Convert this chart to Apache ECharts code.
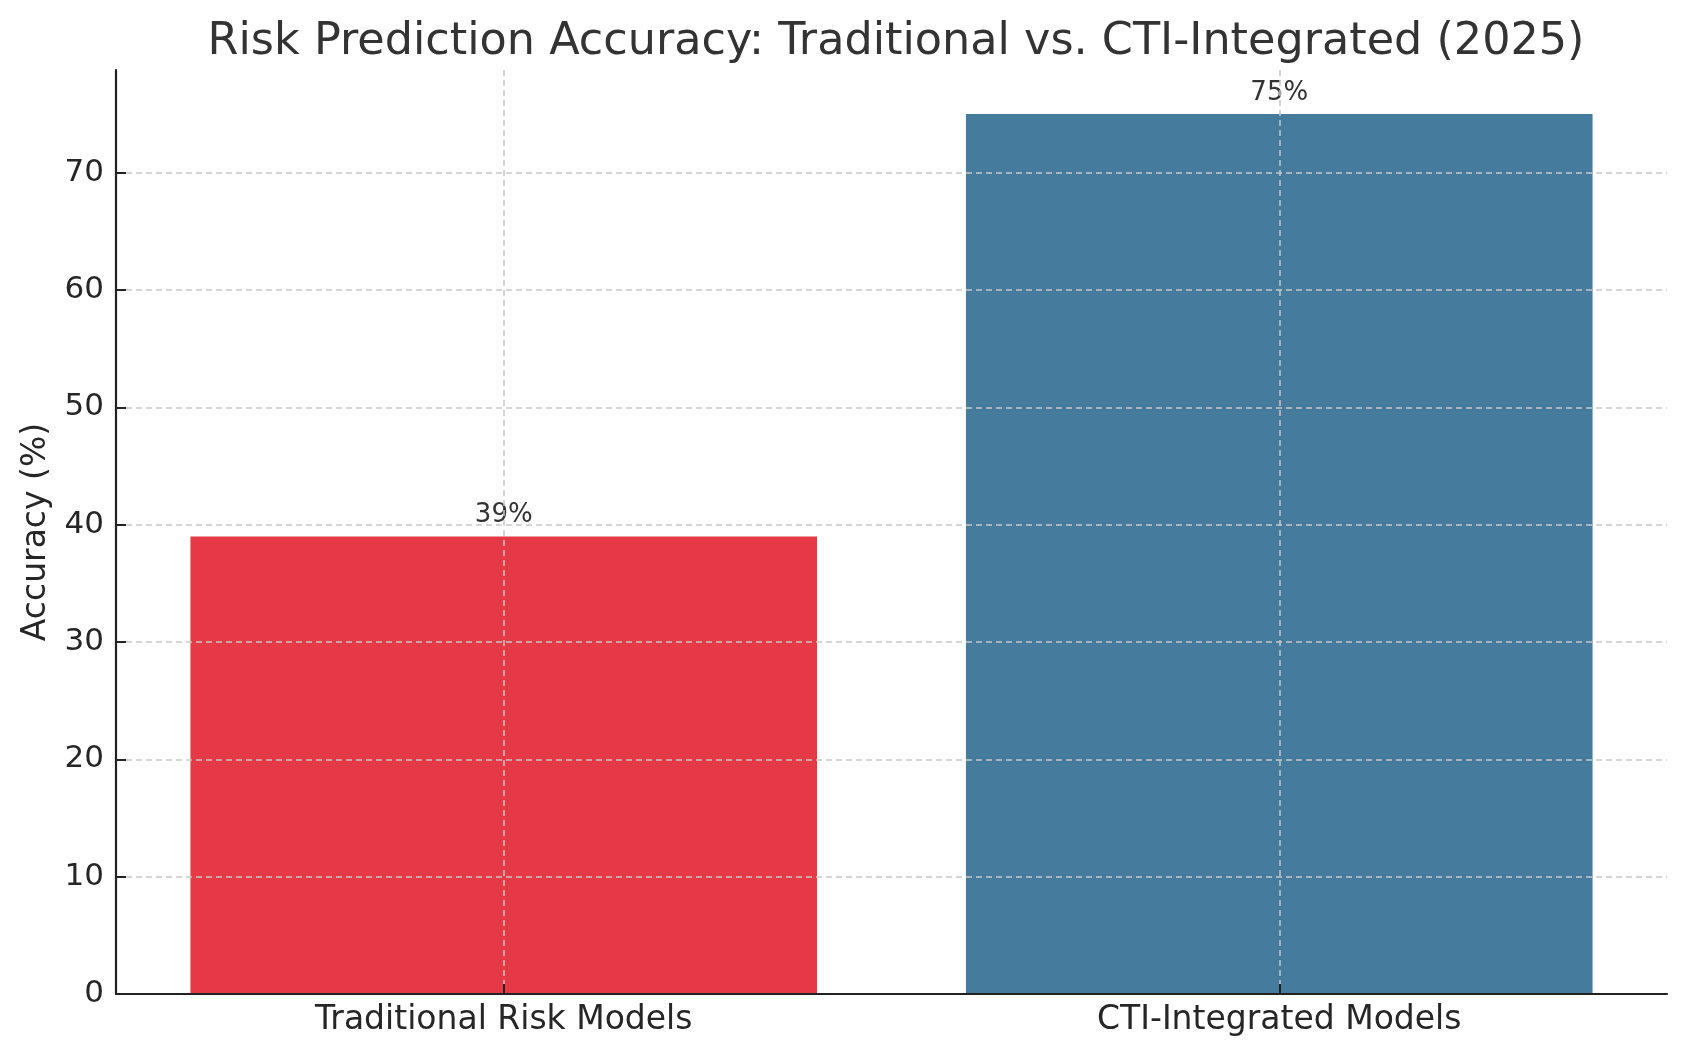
<!DOCTYPE html>
<html>
<head>
<meta charset="utf-8">
<script src="https://cdn.jsdelivr.net/npm/echarts@6/dist/echarts.min.js"></script>
<style>
html,body{margin:0;padding:0;background:#fff;}
#chart{width:1686px;height:1057px;}
</style>
</head>
<body>
<div id="chart"></div>
<script>
const categories = ['Traditional Risk Models', 'CTI-Integrated Models'];
const accuracy = [39, 75];
const barColors = ['#E63946', '#457B9D'];
const titleText = 'Risk Prediction Accuracy: Traditional vs. CTI-Integrated (2025)';
const yAxisName = 'Accuracy (%)';
const yMax = 78.75;
const yInterval = 10;

const FONT = 'DejaVu Sans';
const chart = echarts.init(document.getElementById('chart'), null, {renderer: 'canvas'});
const gridLine = {show: true, lineStyle: {color: '#c8c8c8', width: 1.5, type: [6, 4]}};

chart.setOption({
  animation: false,
  backgroundColor: '#ffffff',
  title: {
    text: titleText,
    left: 891, textAlign: 'center',
    top: 15,
    textStyle: {fontFamily: FONT, fontSize: 44.5, fontWeight: 'normal', color: '#333333'}
  },
  grid: {left: 116, right: 19, top: 70, bottom: 63, containLabel: false},
  xAxis: {
    type: 'category',
    data: categories,
    z: 5,
    boundaryGap: true,
    axisLine: {show: true, lineStyle: {color: '#222222', width: 2.2}},
    axisTick: {show: true, inside: true, alignWithLabel: true, length: 10, lineStyle: {color: '#222222', width: 2}},
    axisLabel: {fontFamily: FONT, fontSize: 33, color: '#262626', margin: 10},
    splitLine: Object.assign({alignWithLabel: true}, gridLine)
  },
  yAxis: {
    type: 'value',
    min: 0, max: yMax, interval: yInterval,
    z: 5,
    name: yAxisName,
    nameLocation: 'middle',
    nameGap: 63,
    nameTextStyle: {fontFamily: FONT, fontSize: 33, color: '#262626'},
    axisLine: {show: true, lineStyle: {color: '#222222', width: 2.2}},
    axisTick: {show: true, inside: true, length: 10, lineStyle: {color: '#222222', width: 2}},
    axisLabel: {fontFamily: FONT, fontSize: 31, color: '#262626', margin: 12, showMaxLabel: false},
    splitLine: Object.assign({showMaxLine: false, showMinLine: false}, gridLine)
  },
  series: [{
    type: 'bar',
    z: 2,
    barWidth: '80.8%',
    data: accuracy.map((v, i) => ({value: v, itemStyle: {color: barColors[i]}})),
    label: {
      show: true, position: 'top', distance: 8,
      formatter: p => p.value + '%',
      fontFamily: FONT, fontSize: 26, color: '#333333'
    }
  }]
});
</script>
</body>
</html>
